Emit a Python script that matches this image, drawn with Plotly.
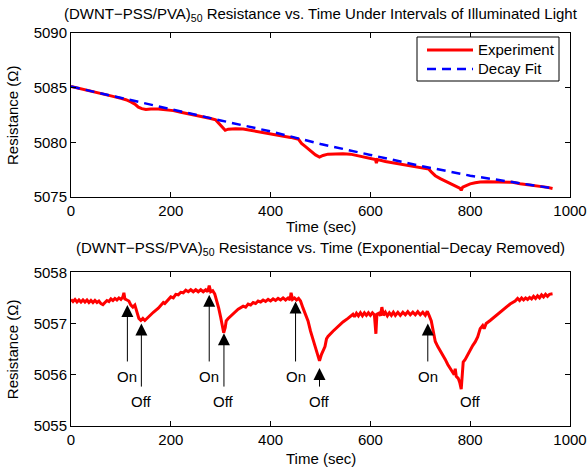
import plotly.graph_objects as go

# ---------------- data ----------------
exp_t = [0, 20, 40, 60, 80, 100, 110, 120, 128, 135, 142, 150, 160, 175, 190, 205, 220, 235, 250, 265,
         280, 290, 297, 303, 309, 315, 330, 345, 360, 380, 400, 420, 440, 456, 462, 470, 480, 490, 498,
         505, 515, 530, 545, 560, 580, 600, 610, 612, 614, 630, 650, 670, 690, 710, 717, 722, 730, 740,
         755, 765, 770, 775, 780, 782, 785, 792, 800, 810, 820, 835, 850, 870, 885, 900, 920, 940, 955, 965]
exp_r = [5085.12, 5084.92, 5084.68, 5084.45, 5084.25, 5084.02, 5083.9, 5083.7, 5083.5, 5083.22, 5083.08,
         5083.0, 5083.05, 5083.05, 5083.0, 5082.9, 5082.75, 5082.62, 5082.45, 5082.32, 5082.18, 5082.05,
         5081.7, 5081.35, 5081.1, 5081.2, 5081.25, 5081.22, 5081.1, 5080.98, 5080.82, 5080.66, 5080.45,
         5080.28, 5079.9, 5079.6, 5079.2, 5078.85, 5078.65, 5078.8, 5078.92, 5078.95, 5078.95, 5078.92,
         5078.72, 5078.52, 5078.42, 5078.1, 5078.42, 5078.25, 5078.1, 5077.95, 5077.8, 5077.65, 5077.55,
         5077.3, 5076.95, 5076.68, 5076.35, 5076.12, 5076.05, 5075.95, 5075.78, 5075.6, 5075.9, 5076.05,
         5076.2, 5076.3, 5076.38, 5076.4, 5076.4, 5076.4, 5076.35, 5076.22, 5076.1, 5076.0, 5075.88, 5075.78]

fit_t = [0, 100, 200, 300, 400, 500, 600, 700, 800, 900, 965]
fit_r = [5085.1, 5084.05, 5083.0, 5082.0, 5081.0, 5079.85, 5078.85, 5077.85, 5076.95, 5076.25, 5075.8]

det_t = [0, 4, 8, 12, 16, 20, 24, 28, 32, 36, 40, 44, 48, 52, 56, 60, 64, 68, 72, 76, 80, 84, 88, 92, 96,
         100, 104, 106, 108, 112, 116, 120, 124, 128, 132, 136, 140, 144, 148, 152, 156, 165, 175, 180,
         185, 188, 195, 200, 205, 210, 215, 220, 225, 230, 235, 240, 245, 250, 255, 260, 265, 270, 274,
         277, 280, 284, 288, 292, 296, 300, 303, 306, 309, 311, 315, 325, 335, 345, 350, 355, 360, 365,
         370, 375, 380, 385, 390, 395, 400, 405, 410, 415, 420, 425, 430, 435, 439, 441, 444, 448, 452,
         456, 460, 465, 470, 475, 480, 485, 490, 494, 498, 502, 506, 509, 512, 515, 525, 535, 545, 555,
         565, 568, 572, 576, 580, 584, 588, 592, 596, 600, 604, 608, 611, 613, 617, 620, 623, 626, 630,
         634, 638, 642, 646, 650, 655, 660, 665, 670, 675, 680, 685, 690, 695, 700, 705, 710, 714, 718,
         722, 726, 730, 735, 740, 745, 750, 755, 760, 765, 768, 770, 772, 776, 779, 782, 784, 786, 790,
         795, 800, 805, 810, 815, 820, 825, 828, 832, 840, 850, 860, 870, 880, 890, 895, 899, 903, 907,
         911, 915, 919, 923, 927, 931, 935, 939, 943, 947, 951, 955, 959, 965]
det_r = [5057.47, 5057.43, 5057.47, 5057.42, 5057.46, 5057.42, 5057.46, 5057.42, 5057.46, 5057.41,
         5057.45, 5057.41, 5057.45, 5057.41, 5057.44, 5057.39, 5057.37, 5057.42, 5057.45, 5057.43,
         5057.48, 5057.45, 5057.49, 5057.46, 5057.50, 5057.47, 5057.52, 5057.60, 5057.48, 5057.46,
         5057.44, 5057.36, 5057.32, 5057.36, 5057.22, 5057.10, 5057.06, 5057.10, 5057.06, 5057.10,
         5057.14, 5057.22, 5057.30, 5057.35, 5057.41, 5057.39, 5057.47, 5057.52, 5057.50, 5057.57,
         5057.56, 5057.61, 5057.60, 5057.65, 5057.62, 5057.66, 5057.62, 5057.66, 5057.62, 5057.66,
         5057.62, 5057.66, 5057.62, 5057.74, 5057.62, 5057.64, 5057.58, 5057.45, 5057.30, 5057.12,
         5056.95, 5056.82, 5056.92, 5057.05, 5057.10, 5057.20, 5057.28, 5057.34, 5057.32, 5057.38,
         5057.36, 5057.41, 5057.39, 5057.44, 5057.42, 5057.46, 5057.43, 5057.47, 5057.44, 5057.48,
         5057.45, 5057.49, 5057.46, 5057.50, 5057.46, 5057.50, 5057.46, 5057.60, 5057.47, 5057.50,
         5057.46, 5057.49, 5057.44, 5057.30, 5057.17, 5057.05, 5056.85, 5056.70, 5056.52, 5056.42,
         5056.27, 5056.40, 5056.48, 5056.55, 5056.70, 5056.75, 5056.85, 5056.95, 5057.03, 5057.10,
         5057.18, 5057.13, 5057.20, 5057.15, 5057.21, 5057.15, 5057.21, 5057.16, 5057.21, 5057.16,
         5057.21, 5057.17, 5056.80, 5057.18, 5057.20, 5057.15, 5057.32, 5057.16, 5057.22, 5057.15,
         5057.21, 5057.16, 5057.22, 5057.16, 5057.22, 5057.16, 5057.22, 5057.17, 5057.23, 5057.17,
         5057.22, 5057.17, 5057.23, 5057.17, 5057.22, 5057.16, 5057.24, 5057.15, 5057.05, 5056.85,
         5056.65, 5056.55, 5056.47, 5056.40, 5056.30, 5056.20, 5056.12, 5056.05, 5056.00, 5056.12,
         5055.97, 5055.93, 5055.85, 5055.72, 5055.95, 5056.25, 5056.30, 5056.40, 5056.48, 5056.57,
         5056.64, 5056.74, 5056.90, 5056.96, 5056.90, 5057.00, 5057.06, 5057.14, 5057.22, 5057.30,
         5057.38, 5057.44, 5057.49, 5057.45, 5057.50, 5057.46, 5057.50, 5057.47, 5057.51, 5057.48,
         5057.53, 5057.49, 5057.54, 5057.50, 5057.56, 5057.52, 5057.57, 5057.53, 5057.57, 5057.58]

x_ticks = [0, 200, 400, 600, 800, 1000]
top_ticks = [5075, 5080, 5085, 5090]
bot_ticks = [5055, 5056, 5057, 5058]

series_names = ["Experiment", "Decay Fit"]

# light markers: (time of arrow, value at arrow tip)
on_t = [113, 277, 450, 715]
on_tip = [5057.36, 5057.56, 5057.43, 5057.00]
off_t = [141, 306.5, 498, 800]
off_tip = [5057.00, 5056.81, 5056.13, None]

# ---------------- figure ----------------
W, H = 587, 472
FONT = "Liberation Sans, Arial, Helvetica, sans-serif"
FS = 15
RED = "#ff0000"
BLUE = "#0000ff"
DASH = "9px,6px"

fig = go.Figure()
fig.add_trace(go.Scatter(x=exp_t, y=exp_r, mode="lines", name=series_names[0],
                         line=dict(color=RED, width=3), xaxis="x", yaxis="y"))
fig.add_trace(go.Scatter(x=fit_t, y=fit_r, mode="lines", name=series_names[1],
                         line=dict(color=BLUE, width=2.5, dash=DASH), xaxis="x", yaxis="y"))
fig.add_trace(go.Scatter(x=det_t, y=det_r, mode="lines", showlegend=False,
                         line=dict(color=RED, width=3), xaxis="x2", yaxis="y2"))

def px2fx(p):
    return p / W

def px2fy(p):
    return 1 - p / H

L, R = 71, 570
T1, B1 = 33, 197
T2, B2 = 272.3, 426

axis_common = dict(showline=True, linecolor="black", linewidth=1, mirror="ticks", ticks="inside",
                   ticklen=5, tickcolor="black", showgrid=False, zeroline=False, automargin=False,
                   tickfont=dict(family=FONT, size=FS, color="black"))

fig.update_layout(
    template="none",
    width=W, height=H,
    margin=dict(l=0, r=0, t=0, b=0, autoexpand=False),
    paper_bgcolor="white", plot_bgcolor="white",
    font=dict(family=FONT, size=FS, color="black"),
    xaxis=dict(domain=[px2fx(L), px2fx(R)], range=[0, 1000], tickvals=x_ticks, anchor="y", **axis_common),
    yaxis=dict(domain=[px2fy(B1), px2fy(T1)], range=[5075, 5090], tickvals=top_ticks, anchor="x", **axis_common),
    xaxis2=dict(domain=[px2fx(L), px2fx(R)], range=[0, 1000], tickvals=x_ticks, anchor="y2", **axis_common),
    yaxis2=dict(domain=[px2fy(B2), px2fy(T2)], range=[5055, 5058], tickvals=bot_ticks, anchor="x2", **axis_common),
    showlegend=False,
)

# ---- legend drawn as a box (MATLAB style) ----
shapes = [
    dict(type="rect", xref="paper", yref="paper", x0=px2fx(417), x1=px2fx(559), y0=px2fy(81), y1=px2fy(37),
         line=dict(color="black", width=1), fillcolor="white", layer="above"),
    dict(type="line", xref="paper", yref="paper", x0=px2fx(427), x1=px2fx(473), y0=px2fy(50), y1=px2fy(50),
         line=dict(color=RED, width=3), layer="above"),
    dict(type="line", xref="paper", yref="paper", x0=px2fx(427), x1=px2fx(473), y0=px2fy(69), y1=px2fy(69),
         line=dict(color=BLUE, width=2.5, dash=DASH), layer="above"),
]

cx = px2fx((L + R) / 2)
ann = []

def ptext(x, y, text, **kw):
    d = dict(x=px2fx(x), y=px2fy(y), xref="paper", yref="paper", showarrow=False,
             xanchor="center", yanchor="middle", text=text)
    d.update(kw)
    ann.append(d)

for name, yy in zip(series_names, [50, 69]):
    ptext(476, yy, name, xanchor="left")
# titles
ptext((L + R) / 2, 14, "(DWNT\u2212PSS/PVA)<sub>50</sub> Resistance vs. Time Under Intervals of Illuminated Light")
ptext((L + R) / 2, 248, "(DWNT\u2212PSS/PVA)<sub>50</sub> Resistance vs. Time (Exponential\u2212Decay Removed)")
# axis titles
for yc in [(T1 + B1) / 2, (T2 + B2) / 2]:
    ptext(12, yc, "Resistance (\u03a9)", textangle=-90)
for yc in [226, 458]:
    ptext((L + R) / 2, yc, "Time (sec)")

# On / Off arrows and labels
for t, tip in zip(on_t, on_tip):
    ann.append(dict(x=t, y=tip, ax=t, ay=5056.23, xref="x2", yref="y2", axref="x2", ayref="y2",
                    text="", showarrow=True, arrowhead=2, arrowsize=2.4, arrowwidth=1, arrowcolor="black"))
    ann.append(dict(x=t, y=5055.96, xref="x2", yref="y2", text="On", showarrow=False,
                    xanchor="center", yanchor="middle"))
for t, tip in zip(off_t, off_tip):
    if tip is not None:
        ann.append(dict(x=t, y=tip, ax=t, ay=5055.74, xref="x2", yref="y2", axref="x2", ayref="y2",
                        text="", showarrow=True, arrowhead=2, arrowsize=2.4, arrowwidth=1, arrowcolor="black"))
    ann.append(dict(x=t, y=5055.47, xref="x2", yref="y2", text="Off", showarrow=False,
                    xanchor="center", yanchor="middle"))

fig.update_layout(annotations=ann, shapes=shapes)
fig.write_html("out.html", config={"displayModeBar": False},
               post_script="document.body.style.margin='0';document.body.style.padding='0';")
